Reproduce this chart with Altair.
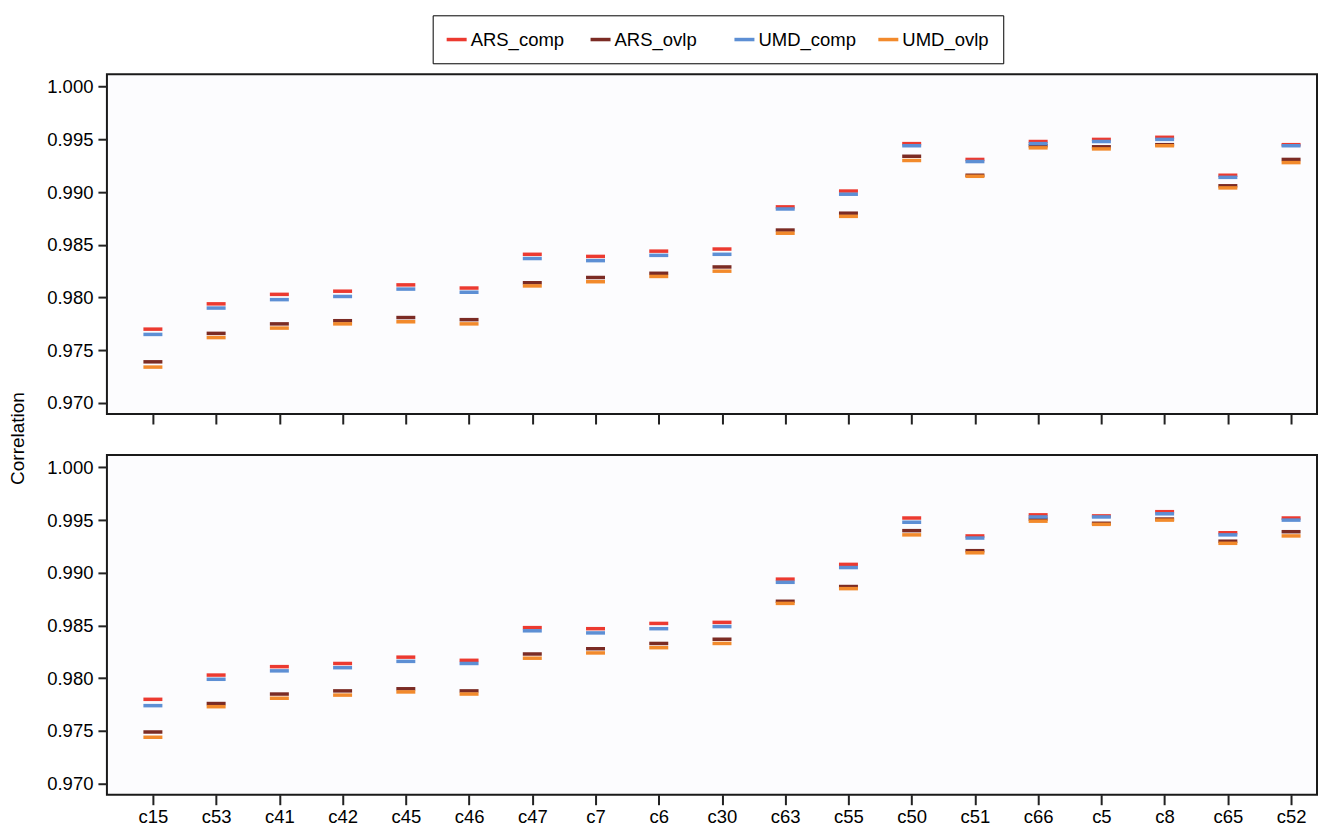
import json
import altair as alt
import pandas as pd

categories = ["c15", "c53", "c41", "c42", "c45", "c46", "c47", "c7", "c6", "c30",
              "c63", "c55", "c50", "c51", "c66", "c5", "c8", "c65", "c52"]
series_names = ["ARS_comp", "ARS_ovlp", "UMD_comp", "UMD_ovlp"]
series_colors = ["#ec3a30", "#7b2b24", "#5d8fd4", "#f28a2c"]

# top panel
ars_comp_top = [0.9770, 0.9794, 0.9803, 0.9806, 0.9812, 0.9809, 0.9841, 0.9839, 0.9844, 0.9846,
                0.9886, 0.9901, 0.9946, 0.9931, 0.9948, 0.9950, 0.9952, 0.9916, 0.9945]
ars_ovlp_top = [0.9739, 0.9766, 0.9775, 0.9778, 0.9781, 0.9779, 0.9814, 0.9819, 0.9823, 0.9829,
                0.9864, 0.9880, 0.9934, 0.9916, 0.9944, 0.9943, 0.9945, 0.9906, 0.9931]
umd_comp_top = [0.9765, 0.9790, 0.9798, 0.9801, 0.9808, 0.9805, 0.9837, 0.9835, 0.9840, 0.9841,
                0.9884, 0.9898, 0.9944, 0.9929, 0.9946, 0.9948, 0.9950, 0.9914, 0.9944]
umd_ovlp_top = [0.9734, 0.9762, 0.9771, 0.9775, 0.9777, 0.9775, 0.9811, 0.9815, 0.9820, 0.9825,
                0.9861, 0.9877, 0.9930, 0.9915, 0.9942, 0.9941, 0.9944, 0.9904, 0.9928]

# bottom panel
ars_comp_bot = [0.9780, 0.9803, 0.9811, 0.9814, 0.9820, 0.9817, 0.9848, 0.9847, 0.9852, 0.9853,
                0.9894, 0.9908, 0.9952, 0.9935, 0.9955, 0.9954, 0.9958, 0.9938, 0.9952]
ars_ovlp_bot = [0.9749, 0.9776, 0.9785, 0.9788, 0.9790, 0.9788, 0.9823, 0.9828, 0.9833, 0.9837,
                0.9873, 0.9887, 0.9940, 0.9921, 0.9951, 0.9947, 0.9951, 0.9930, 0.9939]
umd_comp_bot = [0.9774, 0.9799, 0.9807, 0.9810, 0.9816, 0.9814, 0.9845, 0.9843, 0.9847, 0.9849,
                0.9891, 0.9905, 0.9948, 0.9933, 0.9953, 0.9953, 0.9956, 0.9936, 0.9950]
umd_ovlp_bot = [0.9744, 0.9773, 0.9781, 0.9784, 0.9787, 0.9785, 0.9819, 0.9824, 0.9829, 0.9833,
                0.9871, 0.9885, 0.9936, 0.9919, 0.9949, 0.9946, 0.9950, 0.9928, 0.9935]

y_ticks = [0.970, 0.975, 0.980, 0.985, 0.990, 0.995, 1.000]

FONT = "Liberation Sans"


def panel_frame(series_lists):
    rows = []
    for name, vals in zip(series_names, series_lists):
        for i, (cat, v) in enumerate(zip(categories, vals)):
            rows.append({"idx": i, "cat": cat, "series": name, "value": v})
    return pd.DataFrame(rows)


df_top = panel_frame([ars_comp_top, ars_ovlp_top, umd_comp_top, umd_ovlp_top])
df_bot = panel_frame([ars_comp_bot, ars_ovlp_bot, umd_comp_bot, umd_ovlp_bot])

label_expr = json.dumps(categories) + "[datum.value]"

legend = alt.Legend(
    orient="none", legendX=326, legendY=-59, direction="horizontal", columns=4,
    gridAlign="all", title=None,
    symbolType="M-1,-0.175L1,-0.175L1,0.175L-1,0.175Z", symbolSize=400,
    symbolStrokeWidth=0, symbolOpacity=1,
    labelFont=FONT, labelFontSize=18.5, labelColor="black",
    labelOffset=4, columnPadding=22, padding=14, strokeColor="black",
    fillColor="white", labelLimit=300,
)
color = alt.Color("series:N", scale=alt.Scale(domain=series_names, range=series_colors),
                  legend=legend)


def make_panel(df, show_labels, ytitle):
    xaxis = alt.Axis(values=list(range(len(categories))), labels=show_labels,
                     labelExpr=label_expr, title=None, domain=False, grid=False,
                     tickSize=10, tickWidth=2, tickColor="#222222",
                     labelFont=FONT, labelFontSize=18.5, labelColor="black",
                     labelPadding=3)
    yaxis_kwargs = dict(values=y_ticks, format=".3f", domain=False, grid=False,
                        tickSize=9, tickWidth=2, tickColor="#222222",
                        labelFont=FONT, labelFontSize=18.5, labelColor="black",
                        labelPadding=5)
    if ytitle:
        yaxis = alt.Axis(title=ytitle, titleX=-79, titleY=364, titleAngle=270,
                         titleBaseline="bottom", titleAlign="center",
                         titleFont=FONT, titleFontSize=19, titleFontWeight="normal",
                         titleColor="black", **yaxis_kwargs)
    else:
        yaxis = alt.Axis(title=None, **yaxis_kwargs)
    return alt.Chart(df).mark_tick(orient="horizontal", size=19, thickness=3.5,
                                   opacity=1).encode(
        x=alt.X("idx:Q", scale=alt.Scale(domain=[-0.727, 18.41], nice=False, zero=False),
                axis=xaxis),
        y=alt.Y("value:Q", scale=alt.Scale(domain=[0.96895, 1.00118], nice=False, zero=False),
                axis=yaxis),
        color=color,
    ).properties(width=1211, height=340)


top = make_panel(df_top, False, "Correlation")
bottom = make_panel(df_bot, True, None)

chart = alt.vconcat(top, bottom, spacing=41, bounds="flush").configure_view(
    fill="#fcfcfe", stroke="#1a1a1a", strokeWidth=2
).properties(
    padding={"left": 0, "top": 6, "right": 4, "bottom": 4}, background="white"
)

chart.save("out.html", embed_options={"renderer": "svg", "actions": False})
